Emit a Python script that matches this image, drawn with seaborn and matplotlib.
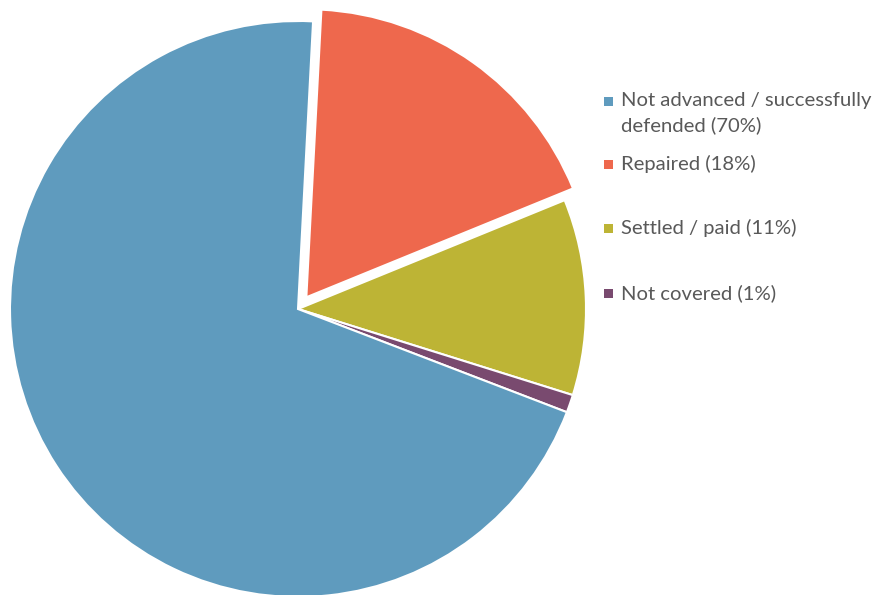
import matplotlib
matplotlib.use("Agg")
import matplotlib.pyplot as plt
import seaborn as sns
from matplotlib.patches import Rectangle

categories = ["Repaired (18%)", "Settled / paid (11%)", "Not covered (1%)",
              "Not advanced / successfully\ndefended (70%)"]
values = [18, 11, 1, 70]
colors = ["#EE684D", "#BDB435", "#794A6F", "#5F9BBE"]
legend_order = [3, 0, 1, 2]

sns.set_theme(style="white")
plt.rcParams["font.family"] = ["Lato", "DejaVu Sans"]

W, H = 877, 595
fig = plt.figure(figsize=(W / 100, H / 100), dpi=100)

cx, cy, r = 298, 309, 288
lim = 1.1
half = lim * r
ax = fig.add_axes([(cx - half) / W, (H - cy - half) / H, 2 * half / W, 2 * half / H])
ax.pie(values, colors=colors, startangle=87.0, counterclock=False,
       explode=[0.05, 0, 0, 0],
       wedgeprops=dict(edgecolor="white", linewidth=1.5, clip_on=False))
ax.set_xlim(-lim, lim)
ax.set_ylim(-lim, lim)
ax.set_aspect("equal")
ax.axis("off")

# legend (manual to match spacing)
ys = [101, 164, 228, 293]
line_gap = 24
for idx, y in zip(legend_order, ys):
    sq = 9
    fig.patches.append(Rectangle((604 / W, (H - y - sq / 2) / H), sq / W, sq / H,
                                 transform=fig.transFigure, facecolor=colors[idx],
                                 edgecolor="none"))
    for k, line in enumerate(categories[idx].split("\n")):
        fig.text(621 / W, (H - y - k * line_gap) / H, line, ha="left", va="center",
                 fontsize=14.6, color="#595959")

fig.savefig("out.png", dpi=100)
